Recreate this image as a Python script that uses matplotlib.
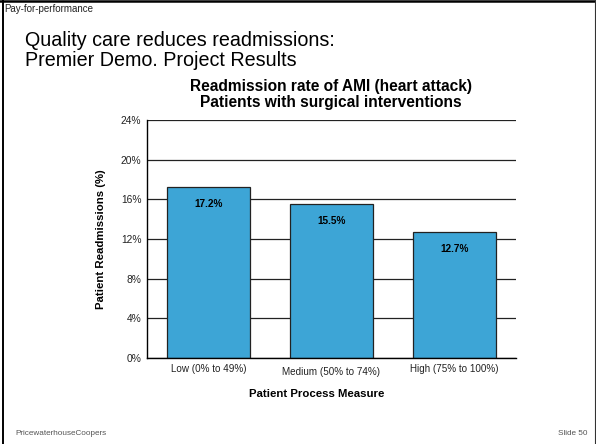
import matplotlib
matplotlib.use("Agg")
import matplotlib.pyplot as plt
from matplotlib.lines import Line2D

plt.rcParams['font.family'] = ['Liberation Sans', 'DejaVu Sans']

categories = ["Low (0% to 49%)", "Medium (50% to 74%)", "High (75% to 100%)"]
readmission_pct = [17.2, 15.5, 12.7]
y_ticks = [0, 4, 8, 12, 16, 20, 24]
y_tick_labels = ["0%", "4%", "8%", "12%", "16%", "20%", "24%"]

W, H = 596, 444
fig = plt.figure(figsize=(W / 100, H / 100), dpi=100)
fig.patch.set_facecolor("white")

def fx(px):
    return px / W

def fy(py):
    return 1 - py / H

# slide frame
fig.add_artist(Line2D([fx(2.8), fx(2.8)], [fy(0), fy(444)], transform=fig.transFigure,
                      color="black", lw=1.4))
fig.add_artist(Line2D([fx(0), fx(594.5)], [fy(1.2), fy(1.2)], transform=fig.transFigure,
                      color="black", lw=1.8))
fig.add_artist(Line2D([fx(594.5), fx(594.5)], [fy(0), fy(444)], transform=fig.transFigure,
                      color="#333333", lw=0.8))

# slide headers
fig.text(fx(4), fy(9), "Pay-for-performance", fontsize=7, color="#222222", va="center", ha="left")
fig.text(fx(25), fy(40), "Quality care reduces readmissions:", fontsize=14.2, color="black",
         va="center", ha="left")
fig.text(fx(25), fy(60), "Premier Demo. Project Results", fontsize=14.2, color="black",
         va="center", ha="left")
fig.text(fx(331), fy(86), "Readmission rate of AMI (heart attack)", fontsize=11.2,
         fontweight="bold", ha="center", va="center")
fig.text(fx(331), fy(102.5), "Patients with surgical interventions", fontsize=11.2,
         fontweight="bold", ha="center", va="center")

# footer
fig.text(fx(15), fy(433), "PricewaterhouseCoopers", fontsize=5.9, color="#555555",
         ha="left", va="center")
fig.text(fx(587), fy(433), "Slide 50", fontsize=5.9, color="#555555", ha="right", va="center")

# chart area
ax = fig.add_axes([fx(147), fy(358), fx(516) - fx(147), fy(120) - fy(358)])
ax.set_xlim(-0.5, len(categories) - 0.5)
ax.set_ylim(0, 24)
ax.set_yticks(y_ticks)
ax.set_yticklabels(y_tick_labels, fontsize=7.4, color="#222222")
ax.yaxis.grid(True, color="#222222", lw=0.9)
ax.set_axisbelow(True)
for s in ["top", "right"]:
    ax.spines[s].set_visible(False)
ax.spines["left"].set_color("black")
ax.spines["bottom"].set_color("black")
ax.spines["left"].set_linewidth(1.0)
ax.spines["bottom"].set_linewidth(1.0)
ax.tick_params(axis="both", length=0, pad=4)

x = list(range(len(categories)))
bars = ax.bar(x, readmission_pct, width=0.68, color="#3DA5D6", edgecolor="#222222", lw=0.9)
for xi, v in zip(x, readmission_pct):
    ax.annotate(f"{v}%", (xi, v), xytext=(0, -12), textcoords="offset points",
                ha="center", va="center", fontsize=7.2, fontweight="bold")

ax.set_xticks(x)
ax.set_xticklabels(categories, fontsize=7.1, color="#222222")
for lbl, off in zip(ax.get_xticklabels(), [0, 3, 0]):
    lbl.set_y(-off / 238)

# axis titles
fig.text(fx(316.5), fy(394), "Patient Process Measure", fontsize=8.2, fontweight="bold",
         ha="center", va="center")
ax.set_ylabel("Patient Readmissions (%)", fontsize=8.2, fontweight="bold", labelpad=11)

fig.savefig("out.png", dpi=100)
